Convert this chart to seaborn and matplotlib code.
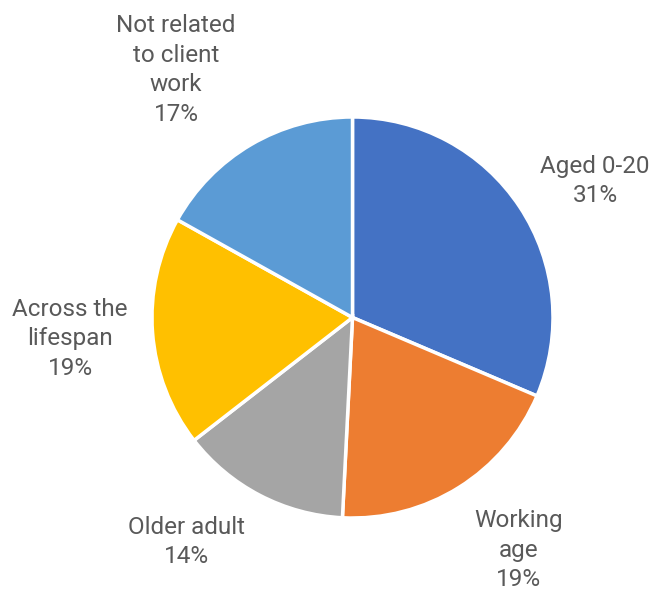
import matplotlib
matplotlib.use("Agg")
import matplotlib.pyplot as plt
import seaborn as sns
import numpy as np

categories = ["Aged 0-20", "Working age", "Older adult", "Across the lifespan", "Not related to client work"]
label_text = ["Aged 0-20", "Working\nage", "Older adult", "Across the\nlifespan", "Not related\nto client\nwork"]
values = [31.4, 19.4, 13.7, 18.6, 16.9]

sns.set_theme(style="white")
plt.rcParams['font.family'] = ['Roboto', 'DejaVu Sans']

colors = sns.color_palette(["#4472C4", "#ED7D31", "#A5A5A5", "#FFC000", "#5B9BD5"])

W, H = 663, 591
fig = plt.figure(figsize=(W / 100, H / 100), dpi=100)
ax = fig.add_axes([0, 0, 1, 1])

center = (352.5, H - 317.5)
radius = 200.5
wedges, _ = ax.pie(values, colors=colors, startangle=90, counterclock=False,
                   center=center, radius=radius, frame=True,
                   wedgeprops=dict(edgecolor="white", linewidth=2.5))
ax.set_xlim(0, W)
ax.set_ylim(0, H)
ax.set_aspect("equal")
ax.axis("off")

# label centres in pixel layout (x, y from top)
label_pos = [(595, 181), (519, 550), (186, 542), (70, 339), (176, 70)]
total = sum(values)
for txt, v, (x, y) in zip(label_text, values, label_pos):
    ax.text(x, H - y, f"{txt}\n{round(100 * v / total)}%", ha="center", va="center",
            fontsize=17.5, color="#595959", linespacing=1.37)

fig.savefig("out.png", dpi=100)
